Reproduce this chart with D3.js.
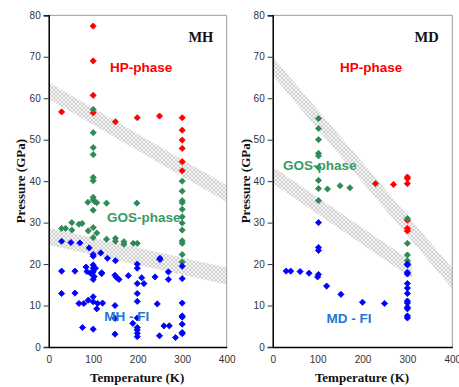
<!DOCTYPE html>
<html>
<head>
<meta charset="utf-8">
<script src="https://cdn.jsdelivr.net/npm/d3@7"></script>
<style>
  body { margin: 0; background: #fff; }
  svg { display: block; }
  .tick text { font-family: Arial, "Liberation Sans", sans-serif; font-size: 10px; fill: #333; }
  .axlabel { font-family: "Times New Roman", "Liberation Serif", serif; font-weight: bold; font-size: 13px; fill: #111; }
  .phase { font-family: Arial, "Liberation Sans", sans-serif; font-weight: bold; font-size: 13.5px; }
</style>
</head>
<body>
<div id="chart"></div>
<script>
// ---- data: [temperature K, pressure GPa] ----
var mhHP = [[100,77.4],[100,69],[100,60.7],[29,56.7],[100,56.5],[150,54.3],[199,55.3],[249,55.7],
  [300,55.3],[300,52.3],[300,49.9],[300,47.9],[300,44.7],[300,42.5]];
var mhGOS = [[100,57.3],[100,51.7],[100,48.1],[100,46.4],[100,40.9],[100,40.1],[100,36.1],[100,35.5],
  [88,34.9],[104,35],[108,34.8],[100,33],[130,34.7],[198,34.7],[100,28.8],[89,28],[108,27.5],[100,26.4],
  [130,26],[150,26.2],[150,25.5],[169,25.4],[169,24.8],[190,25],[199,25],[29,28.6],[38,28.6],[52,30],
  [52,28.2],[68,29.6],[75,29.8],[300,40],[300,37.6],[300,35.3],[300,34.8],[300,33.2],[300,31.4],
  [300,29.9],[300,28.2],[300,25.6],[300,25],[300,22.3],[300,20.5]];
var mhFI = [[29,25.5],[50,25.2],[70,25.1],[91,23.9],[100,22.3],[100,21.9],[117,22.7],[132,21.4],
  [150,20.8],[199,20],[199,19],[250,21.4],[250,21.1],[300,19.5],[300,16.5],[269,18.1],[269,16.3],
  [29,18.3],[59,18.3],[84,19.3],[86,18.2],[94,17.8],[100,19.8],[100,19],[100,18.1],[102,17],[100,16.3],
  [105,19],[119,17.7],[119,17.9],[149,17.3],[152,16.8],[158,16.3],[179,17.2],[209,16.7],[214,15.3],
  [199,15.3],[239,16.9],[29,12.9],[59,13],[68,10.5],[79,10.5],[89,11.3],[100,12.1],[100,10.9],[110,10.5],
  [121,10.6],[108,9.2],[149,10],[199,12.9],[199,11],[244,10.4],[300,10.6],[300,7.5],[300,7.2],[300,5.5],
  [300,3.5],[300,3.2],[149,6.9],[199,7],[149,3.1],[189,5.7],[199,4.7],[199,4.1],[199,3.3],[199,2.5],
  [76,4.7],[100,4.3],[249,2.7],[259,5.1],[271,5.1],[285,2.3]];

var mdHP = [[229,39.4],[269,39.2],[300,41],[300,40.6],[300,39.4],[300,30.6],[300,28.6],[300,28]];
var mdGOS = [[102,55.1],[102,52.7],[102,50],[102,46.7],[102,46.1],[102,43.3],[102,40.2],[102,38.2],
  [122,38.1],[150,38.9],[172,38.4],[102,35.3],[300,31],[300,25],[300,22.2],[300,20.8]];
var mdFI = [[102,30],[102,24],[102,23.3],[30,18.3],[40,18.3],[61,18.2],[81,17.8],[102,17.5],[100,16.9],
  [120,14.7],[152,12.7],[200,10.8],[249,10.5],[300,20],[300,19.8],[300,18],[300,17.6],[300,15.3],
  [300,14.2],[300,12.9],[300,11.1],[300,10.6],[300,9.6],[300,9.2],[300,7.5],[300,7]];

// phase boundary bands: [T, upper P, lower P]
var mhBandHigh = [[0,63.8,59.8],[400,39,35]];
var mhBandLow = [[0,28.7,24.6],[400,19.2,15.1]];
var mdBandHigh = [[0,70,65.5],[400,19,14]];
var mdBandLow = [[0,43.5,39.5],[310,20.6,16.6]];

var xTicks = [0, 100, 200, 300, 400];
var yTicks = [0, 10, 20, 30, 40, 50, 60, 70, 80];

var colors = { hp: "#ff0000", gos: "#2e8b57", fi: "#0000ff" };

var width = 459, height = 387;
var svg = d3.select("#chart").append("svg")
    .attr("width", width)
    .attr("height", height);

// crosshatch pattern for the bands
var pat = svg.append("defs").append("pattern")
    .attr("id", "hatch")
    .attr("patternUnits", "userSpaceOnUse")
    .attr("width", 4)
    .attr("height", 4);
pat.append("rect").attr("width", 4).attr("height", 4).attr("fill", "#f6f6f6");
pat.append("path").attr("d", "M0,0L4,4M4,0L0,4").attr("stroke", "#c6c6c6").attr("stroke-width", 0.8);

var y = d3.scaleLinear().domain([0, 80]).range([347, 15.3]);

function drawPanel(opt) {
  var x = d3.scaleLinear().domain([0, 400]).range([opt.left, opt.right]);
  var g = svg.append("g");

  var clipId = "clip" + opt.name;
  svg.select("defs").append("clipPath").attr("id", clipId)
    .append("rect")
      .attr("x", opt.left).attr("y", y(80))
      .attr("width", opt.right - opt.left).attr("height", y(0) - y(80));

  // bands
  var area = d3.area()
      .x(function(d) { return x(d[0]); })
      .y0(function(d) { return y(d[2]); })
      .y1(function(d) { return y(d[1]); });
  g.append("g").attr("clip-path", "url(#" + clipId + ")")
    .selectAll("path")
    .data(opt.bands)
    .enter().append("path")
      .attr("d", area)
      .attr("fill", "url(#hatch)");

  // frame top/right
  g.append("path")
      .attr("d", "M" + opt.left + "," + y(80) + "H" + opt.right + "V" + y(0))
      .attr("fill", "none")
      .attr("stroke", "#999")
      .attr("stroke-width", 1);

  // axes
  var yAxis = d3.axisLeft(y).tickValues(yTicks).tickSize(5).tickPadding(3);
  g.append("g")
      .attr("transform", "translate(" + opt.left + ",0)")
      .call(yAxis)
      .call(function(s) {
        s.select(".domain").attr("stroke", "#000").attr("stroke-width", 1.5);
        s.selectAll(".tick line").attr("stroke", "#333");
      });

  var xAxis = d3.axisBottom(x).tickValues(xTicks).tickSize(0).tickPadding(9);
  g.append("g")
      .attr("transform", "translate(0," + y(0) + ")")
      .call(xAxis)
      .call(function(s) {
        s.select(".domain").attr("stroke", "#000").attr("stroke-width", 1.5);
      });

  // points
  var sym = d3.symbol().type(d3.symbolSquare).size(19);
  opt.series.forEach(function(se) {
    g.append("g").selectAll("path")
      .data(se.data)
      .enter().append("path")
        .attr("d", sym)
        .attr("transform", function(d) {
          return "translate(" + x(d[0]) + "," + y(d[1]) + ") rotate(45)";
        })
        .attr("fill", se.color)
        .attr("stroke", se.color)
        .attr("stroke-width", 0.8)
        .attr("stroke-linejoin", "round");
  });

  // axis titles
  g.append("text")
      .attr("class", "axlabel")
      .attr("text-anchor", "middle")
      .attr("transform", "translate(" + opt.ylabelX + "," + (y(40)) + ") rotate(-90)")
      .text("Pressure (GPa)");
  g.append("text")
      .attr("class", "axlabel")
      .attr("text-anchor", "middle")
      .attr("x", (opt.left + opt.right) / 2 - 0.5)
      .attr("y", 382)
      .text("Temperature (K)");

  // panel title
  g.append("text")
      .attr("class", "axlabel")
      .style("font-size", "14.5px")
      .attr("text-anchor", "middle")
      .attr("x", x(opt.titleT))
      .attr("y", 41.5)
      .text(opt.name);

  // phase labels
  opt.labels.forEach(function(l) {
    g.append("text")
      .attr("class", "phase")
      .attr("x", x(l.t))
      .attr("y", y(l.p))
      .attr("fill", l.color)
      .text(l.text);
  });
}

drawPanel({
  name: "MH", left: 48.7, right: 226.7, ylabelX: 25, titleT: 342,
  bands: [mhBandHigh, mhBandLow],
  series: [{data: mhHP, color: colors.hp}, {data: mhGOS, color: colors.gos}, {data: mhFI, color: colors.fi}],
  labels: [
    {text: "HP-phase", t: 138, p: 66.3, color: "#ff0000"},
    {text: "GOS-phase", t: 131, p: 30.1, color: "#3a9a60"},
    {text: "MH - FI", t: 125, p: 6.3, color: "#1f78d4"}
  ]
});

drawPanel({
  name: "MD", left: 272.7, right: 452.3, ylabelX: 249.5, titleT: 343,
  bands: [mdBandHigh, mdBandLow],
  series: [{data: mdHP, color: colors.hp}, {data: mdGOS, color: colors.gos}, {data: mdFI, color: colors.fi}],
  labels: [
    {text: "HP-phase", t: 150, p: 66.3, color: "#ff0000"},
    {text: "GOS-phase", t: 23, p: 42.7, color: "#3a9a60"},
    {text: "MD - FI", t: 120, p: 5.9, color: "#1f78d4"}
  ]
});
</script>
</body>
</html>
